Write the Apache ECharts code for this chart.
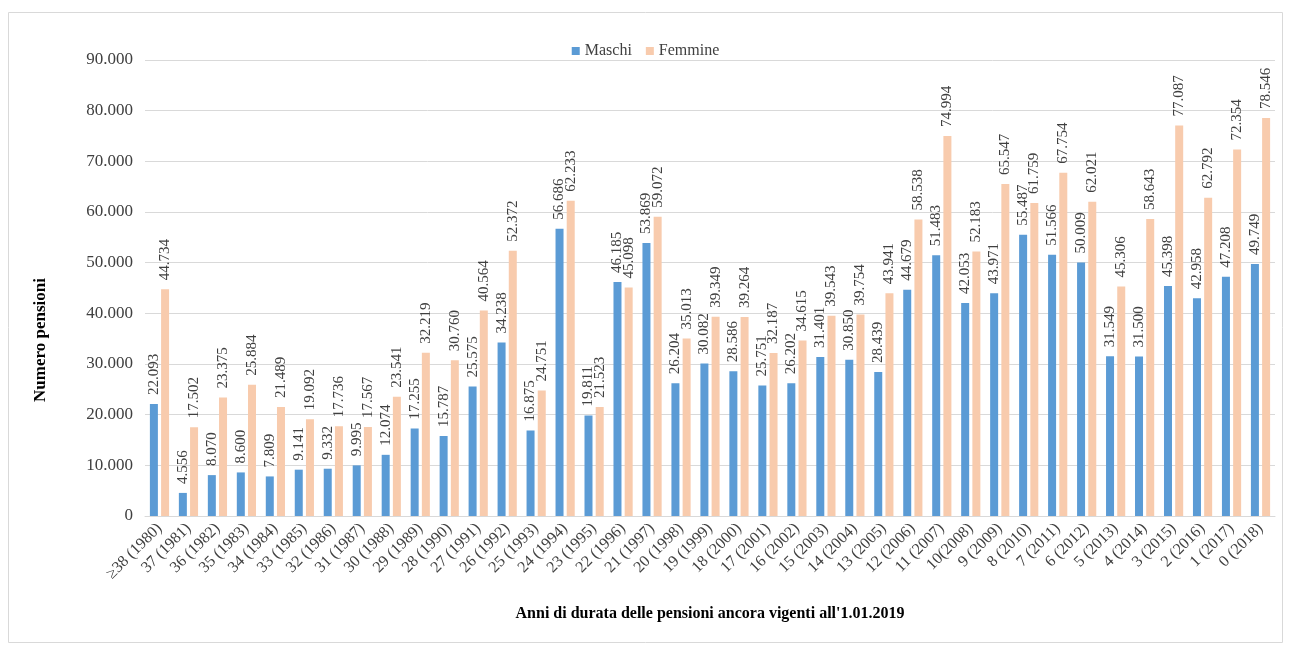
<!DOCTYPE html>
<html><head><meta charset="utf-8">
<script src="https://cdn.jsdelivr.net/npm/echarts@6/dist/echarts.min.js"></script>
<style>html,body{margin:0;padding:0;background:#fff}#c{width:1291px;height:647px}</style>
</head><body><div id="c"></div>
<script>
const categories = ["≥38 (1980)","37 (1981)","36 (1982)","35 (1983)","34 (1984)","33 (1985)","32 (1986)","31 (1987)","30 (1988)","29 (1989)","28 (1990)","27 (1991)","26 (1992)","25 (1993)","24 (1994)","23 (1995)","22 (1996)","21 (1997)","20 (1998)","19 (1999)","18 (2000)","17 (2001)","16 (2002)","15 (2003)","14 (2004)","13 (2005)","12 (2006)","11 (2007)","10(2008)","9 (2009)","8 (2010)","7 (2011)","6 (2012)","5 (2013)","4 (2014)","3 (2015)","2 (2016)","1 (2017)","0 (2018)"];
const maschi = [22093,4556,8070,8600,7809,9141,9332,9995,12074,17255,15787,25575,34238,16875,56686,19811,46185,53869,26204,30082,28586,25751,26202,31401,30850,28439,44679,51483,42053,43971,55487,51566,50009,31549,31500,45398,42958,47208,49749];
const femmine = [44734,17502,23375,25884,21489,19092,17736,17567,23541,32219,30760,40564,52372,24751,62233,21523,45098,59072,35013,39349,39264,32187,34615,39543,39754,43941,58538,74994,52183,65547,61759,67754,62021,45306,58643,77087,62792,72354,78546];
const yTicks = [0,10000,20000,30000,40000,50000,60000,70000,80000,90000];

const fmt = v => v === 0 ? '0' : String(v).replace(/\B(?=(\d{3})+(?!\d))/g, '.');
const font = "'Liberation Serif','Times New Roman',serif";
const chart = echarts.init(document.getElementById('c'));
const lbl = {show:true, position:'top', rotate:90, align:'left', verticalAlign:'middle', distance:9,
  fontFamily:font, fontSize:15, color:'#404040', formatter:p=>fmt(p.value)};
chart.setOption({
  animation:false,
  textStyle:{fontFamily:font},
  graphic:[
    {type:'rect', shape:{x:8.5,y:12.5,width:1274,height:630}, style:{fill:'none',stroke:'#d9d9d9',lineWidth:1}},
    {type:'text', x:41, y:340, rotation:Math.PI/2,
      style:{text:'Numero pensioni', fontFamily:font, fontSize:17, fontWeight:'bold', fill:'#000', align:'center', verticalAlign:'middle'}}
  ],
  legend:{top:38, left:'center', itemWidth:8, itemHeight:8, itemGap:14, icon:'rect',
    textStyle:{fontFamily:font, fontSize:16, color:'#404040'}, data:['Maschi','Femmine']},
  grid:{left:145, right:16, top:60, bottom:131},
  xAxis:{type:'category', data:categories,
    name:"Anni di durata delle pensioni ancora vigenti all'1.01.2019", nameLocation:'middle', nameGap:90,
    nameTextStyle:{fontFamily:font, fontSize:16, fontWeight:'bold', color:'#000'},
    axisLine:{lineStyle:{color:'#d9d9d9'}}, axisTick:{show:false},
    axisLabel:{rotate:45, interval:0, fontFamily:font, fontSize:16, color:'#404040', margin:10}},
  yAxis:{type:'value', min:0, max:90000, interval:10000,
    axisLine:{show:false}, axisTick:{show:false},
    splitLine:{lineStyle:{color:'#d9d9d9'}},
    axisLabel:{fontFamily:font, fontSize:17, color:'#404040', margin:12, formatter:v=>fmt(v)}},
  series:[
    {name:'Maschi', type:'bar', data:maschi, barWidth:8, barGap:'40%', itemStyle:{color:'#5b9bd5'}, label:lbl},
    {name:'Femmine', type:'bar', data:femmine, barWidth:8, itemStyle:{color:'#f8cbad'}, label:lbl}
  ]
});
</script></body></html>
